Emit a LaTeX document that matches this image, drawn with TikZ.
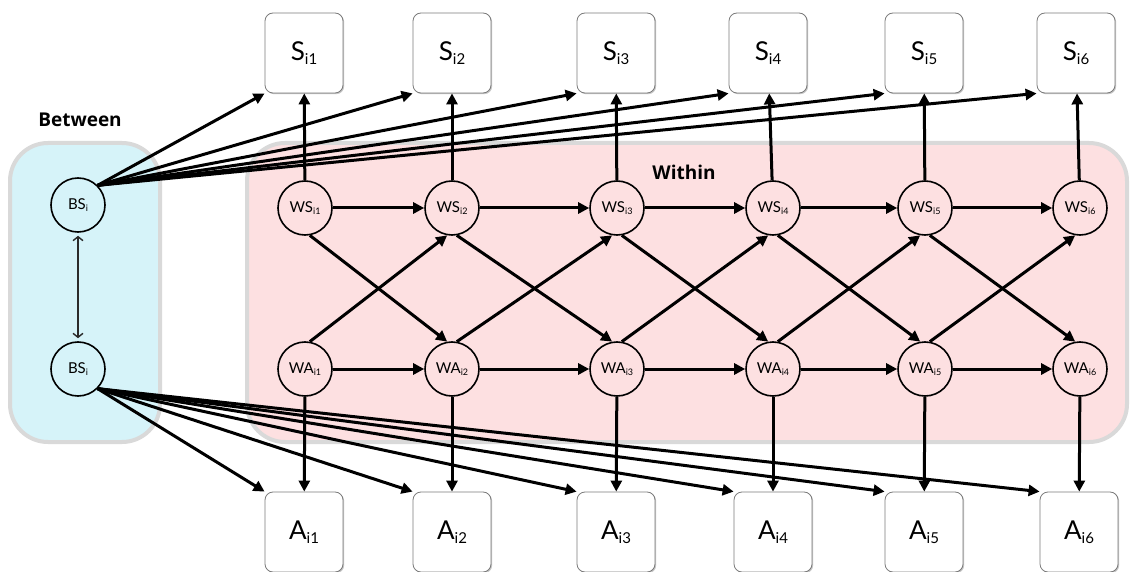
\documentclass[tikz,border=0pt]{standalone}
\usepackage{fontspec}
\setmainfont{Lato}
\newfontfamily\labfont{Open Sans}
\usetikzlibrary{arrows.meta,shadows,calc}
\definecolor{bluefill}{HTML}{D6F3F9}
\definecolor{pinkfill}{HTML}{FDE0E1}
\definecolor{panelgray}{HTML}{D9D9D9}
\definecolor{boxgray}{HTML}{7A7A7A}
\definecolor{darkline}{HTML}{2A2A2A}
\newcommand{\bsub}[1]{{\fontsize{15}{15}\selectfont\raisebox{-4pt}{#1}}}
\newcommand{\csub}[1]{{\fontsize{9}{9}\selectfont\raisebox{-2.5pt}{#1}}}
\begin{document}
\begin{tikzpicture}[x=1pt,y=-1pt,
  panel/.style={draw=panelgray, line width=4pt, rounded corners=38pt},
  obox/.style={draw=boxgray, line width=0.8pt, rounded corners=8pt, fill=white,
    minimum width=78pt, minimum height=80pt, inner sep=0pt,
    font=\fontsize{26}{26}\selectfont,
    drop shadow={shadow xshift=1.2pt, shadow yshift=-1.2pt, fill=black!22, opacity=1}},
  lat/.style={circle, draw=black, line width=1.6pt, minimum size=54pt, inner sep=0pt,
    font=\fontsize{15}{15}\selectfont},
  edge/.style={line width=3pt, -{Triangle[length=11pt,width=11pt]}},
  bsarrow/.style={draw=darkline, line width=1.4pt, {Straight Barb[length=4pt,width=10pt]}-{Straight Barb[length=4pt,width=10pt]}, shorten <=3pt, shorten >=3pt},
  title/.style={font=\labfont\bfseries\fontsize{19}{19}\selectfont}
]
\fill[white] (0,0) rectangle (1130,572);
\useasboundingbox (0,0) rectangle (1130,572);

% panels
\draw[panel, fill=bluefill] (10,143) rectangle (160,442);
\draw[panel, fill=pinkfill] (247,143) rectangle (1127,442);

\node[title] (between) at (80,120) {Between};
\node[title] (within) at (684,172) {Within};

% observed boxes
\foreach \j/\x in {1/304,2/452,3/616,4/768,5/924,6/1076}
  \node[obox] (S\j) at (\x,53) {S\bsub{i\j}};
\foreach \j/\x in {1/304,2/452,3/616,4/773,5/924,6/1079}
  \node[obox] (A\j) at (\x,532) {A\bsub{i\j}};

% latent circles
\node[lat, fill=bluefill] (BSs) at (78,205) {BS\csub{i}};
\node[lat, fill=bluefill] (BSa) at (78,369) {BS\csub{i}};
\foreach \j/\x in {1/305,2/452,3/617,4/773,5/925,6/1080}{
  \node[lat, fill=pinkfill] (WS\j) at (\x,208) {WS\csub{i\j}};
  \node[lat, fill=pinkfill] (WA\j) at (\x,369) {WA\csub{i\j}};
}

% between-level arrows
\draw[bsarrow] (BSs) -- (BSa);
\foreach \j in {1,...,6}{
  \draw[edge] (BSs.45) -- (S\j.south west);
  \draw[edge] (BSa.-45) -- (A\j.north west);
}

% within-level arrows
\foreach \j in {1,...,6}{
  \draw[edge] (WS\j) -- (S\j);
  \draw[edge] (WA\j) -- (A\j);
}
\foreach \j/\k in {1/2,2/3,3/4,4/5,5/6}{
  \draw[edge] (WS\j) -- (WS\k);
  \draw[edge] (WA\j) -- (WA\k);
  \draw[edge] (WS\j.280) -- (WA\k.100);
  \draw[edge] (WA\j.80) -- (WS\k.260);
}
\end{tikzpicture}
\end{document}
